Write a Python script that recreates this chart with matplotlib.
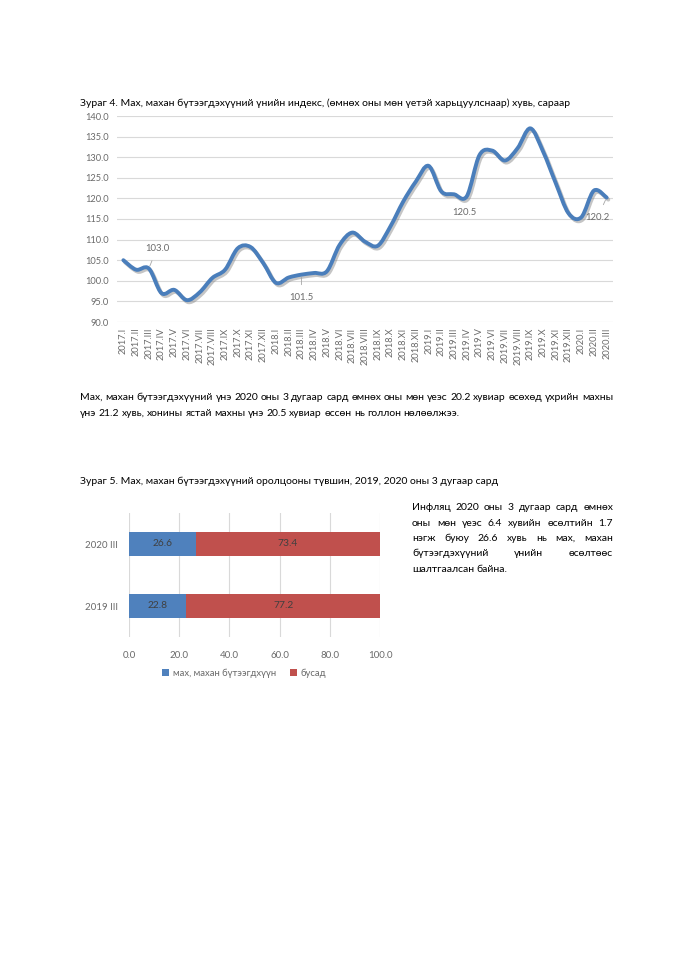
import numpy as np
import matplotlib
matplotlib.use("Agg")
import matplotlib.pyplot as plt
from matplotlib.path import Path
from matplotlib.patches import PathPatch
import matplotlib.patheffects as pe

plt.rcParams['font.family'] = ['Lato', 'DejaVu Sans']

# --- Зураг 4: monthly index data ---
months = ['I', 'II', 'III', 'IV', 'V', 'VI', 'VII', 'VIII', 'IX', 'X', 'XI', 'XII']
periods = [f'{y}.{m}' for y in (2017, 2018, 2019) for m in months] + ['2020.I', '2020.II', '2020.III']
index_vals = [105.0, 102.7, 103.0, 97.0, 97.8, 95.3, 97.2, 100.7, 102.7, 107.9, 108.2, 104.3,
              99.5, 100.8, 101.5, 101.9, 102.3, 108.7, 111.7, 109.5, 108.5, 113.2, 119.2, 124.1,
              127.9, 121.7, 121.0, 120.5, 130.5, 131.6, 129.2, 132.2, 137.0, 131.4, 123.7, 116.4,
              115.4, 121.9, 120.2]
# labelled points: (period, offset in points)
labelled = {'2017.III': (6, 14.5), '2018.III': (0, -16.5), '2019.IV': (-2, -11.5), '2020.III': (-6.5, -14)}

# --- Зураг 5: share data ---
bar_cats = ['2019 III', '2020 III']
meat_share = [22.8, 26.6]
other_share = [77.2, 73.4]

BLUE_LINE = '#4A7EBB'
BLUE = '#4F81BD'
RED = '#C0504D'
GRID = '#D9D9D9'
TICK = '#6A6A6A'
BODY = 7.5

W, H = 679, 960
fig = plt.figure(figsize=(W / 100, H / 100), dpi=100)
renderer = fig.canvas.get_renderer()


def fx(px):
    return px / W


def fy(py):
    return 1 - py / H


def text_line(x0, x1, y, text, size=BODY, justify=True):
    # place words one by one so the line can be justified like the document
    words = text.split()
    objs = [fig.text(0, fy(y), w, fontsize=size, va='baseline', color='black') for w in words]
    widths = [o.get_window_extent(renderer).width for o in objs]
    space = 0.23 * size * 100 / 72
    if justify and len(words) > 1:
        gap = (x1 - x0 - sum(widths)) / (len(words) - 1)
    else:
        gap = space
    x = x0
    for o, w in zip(objs, widths):
        o.set_x(fx(x))
        x += w + gap


def smooth_path(xs, ys):
    # Catmull-Rom spline turned into cubic Bezier segments, like a smoothed Excel line
    pts = np.column_stack([xs, ys]).astype(float)
    ext = np.vstack([pts[0], pts, pts[-1]])
    verts = [pts[0]]
    codes = [Path.MOVETO]
    for i in range(1, len(ext) - 2):
        p0, p1, p2, p3 = ext[i - 1], ext[i], ext[i + 1], ext[i + 2]
        c1 = p1 + (p2 - p0) / 6
        c2 = p2 - (p3 - p1) / 6
        verts += [c1, c2, p2]
        codes += [Path.CURVE4] * 3
    return Path(verts, codes)


# ---------------- line chart ----------------
fig.text(fx(80), fy(106), 'Зураг 4. Мах, махан бүтээгдэхүүний үнийн индекс, (өмнөх оны мөн үетэй харьцуулснаар) хувь, сараар',
         fontsize=BODY, va='baseline', color='black')

ax = fig.add_axes([fx(117), fy(322), fx(613 - 117), (322 - 116) / H])
x = np.arange(len(periods))
patch = PathPatch(smooth_path(x, index_vals), facecolor='none', edgecolor=BLUE_LINE, lw=2.8,
                  capstyle='round', joinstyle='round',
                  path_effects=[pe.SimpleLineShadow(offset=(1.2, -1.5), shadow_color='#7f7f7f', alpha=0.45),
                                pe.Normal()])
ax.add_patch(patch)
ax.set_xlim(-0.5, len(periods) - 0.5)
ax.set_ylim(90, 140)
ax.set_yticks(np.arange(90, 141, 5))
ax.set_yticklabels([f'{v:.1f}' for v in np.arange(90, 141, 5)])
ax.set_xticks(x)
ax.set_xticklabels(periods, rotation=90)
ax.tick_params(axis='both', length=0, labelsize=6.7, colors=TICK)
ax.tick_params(axis='x', pad=4)
ax.tick_params(axis='y', pad=6)
ax.grid(axis='y', color=GRID, lw=0.8)
ax.set_axisbelow(True)
for s in ax.spines.values():
    s.set_visible(False)

for per, off in labelled.items():
    i = periods.index(per)
    ax.annotate(f'{index_vals[i]:.1f}', xy=(i, index_vals[i]), xytext=off, textcoords='offset points',
                ha='center', va='center', fontsize=6.8, color=TICK,
                arrowprops=dict(arrowstyle='-', color='#A6A6A6', lw=0.6, shrinkA=4, shrinkB=2)
                if per != '2019.IV' else None)

# paragraph
text_line(80, 613, 400, 'Мах, махан бүтээгдэхүүний үнэ 2020 оны 3 дугаар сард өмнөх оны мөн үеэс 20.2 хувиар өсөхөд үхрийн махны')
text_line(80, 613, 416, 'үнэ 21.2 хувь, хонины ястай махны үнэ 20.5 хувиар өссөн нь голлон нөлөөлжээ.', justify=False)

# ---------------- bar chart ----------------
fig.text(fx(80), fy(484), 'Зураг 5. Мах, махан бүтээгдэхүүний оролцооны түвшин, 2019, 2020 оны 3 дугаар сард',
         fontsize=BODY, va='baseline', color='black')

bx = fig.add_axes([fx(129), fy(637), fx(380 - 129), (637 - 513) / H])
yb = np.arange(len(bar_cats))
b1 = bx.barh(yb, meat_share, height=0.39, color=BLUE, label='мах, махан бүтээгдхүүн')
b2 = bx.barh(yb, other_share, left=meat_share, height=0.39, color=RED, label='бусад')
for bars in (b1, b2):
    bx.bar_label(bars, labels=[f'{b.get_width():.1f}' for b in bars], label_type='center',
                 fontsize=7.4, color='#404040')
bx.set_xlim(0, 100)
bx.set_ylim(-0.5, 1.5)
bx.set_xticks(np.arange(0, 101, 20))
bx.set_xticklabels([f'{v:.1f}' for v in np.arange(0, 101, 20)])
bx.set_yticks(yb)
bx.set_yticklabels(bar_cats)
bx.tick_params(axis='both', length=0, labelsize=7, colors=TICK)
bx.tick_params(axis='x', pad=10)
bx.tick_params(axis='y', pad=8)
bx.grid(axis='x', color=GRID, lw=0.8)
bx.set_axisbelow(True)
for s in bx.spines.values():
    s.set_visible(False)
bx.legend(loc='center', bbox_to_anchor=(fx(244), fy(673)), bbox_transform=fig.transFigure, ncol=2,
          frameon=False, fontsize=6.8, handlelength=0.7, handleheight=0.7, handletextpad=0.4,
          columnspacing=1.5, labelcolor=TICK)

# side text
side = ['Инфляц 2020 оны 3 дугаар сард өмнөх',
        'оны мөн үеэс 6.4 хувийн өсөлтийн 1.7',
        'нэгж буюу 26.6 хувь нь мах, махан',
        'бүтээгдэхүүний үнийн өсөлтөөс',
        'шалтгаалсан байна.']
for k, line in enumerate(side):
    text_line(412, 613, 510 + k * 15.5, line, justify=(k < len(side) - 1))

fig.savefig('out.png', dpi=100)
